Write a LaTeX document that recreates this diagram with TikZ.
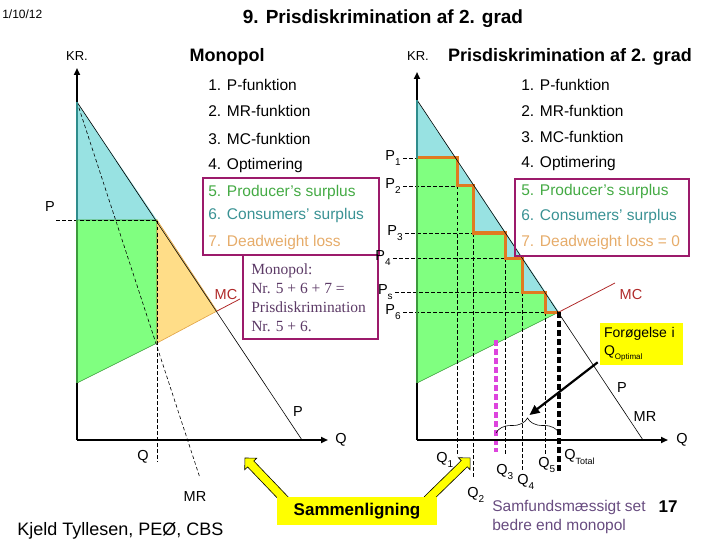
\documentclass[tikz,border=0pt]{standalone}
\usepackage{fontspec}
\setmainfont{Liberation Sans}
\newfontfamily\notefont{Liberation Serif}
\usetikzlibrary{arrows.meta, positioning, calc, shapes.arrows, decorations.pathreplacing}
\definecolor{ccyan}{HTML}{98E2E2}
\definecolor{ccyanline}{HTML}{2F8C8C}
\definecolor{cgreen}{HTML}{80FF80}
\definecolor{cgreenline}{HTML}{3C9A3C}
\definecolor{cyellow}{HTML}{FFDD88}
\definecolor{cyellowline}{HTML}{E0A040}
\definecolor{corange}{HTML}{E07A20}
\definecolor{cpurple}{HTML}{9C1A6B}
\definecolor{cmagenta}{HTML}{DD44DD}
\definecolor{cred}{HTML}{B02A2A}
\definecolor{tgreen}{HTML}{44AA44}
\definecolor{tteal}{HTML}{3A9294}
\definecolor{ttan}{HTML}{E6AC6A}
\definecolor{tplum}{HTML}{5C3A66}
\definecolor{tmauve}{HTML}{684C80}
\definecolor{hilite}{HTML}{FFFF00}
\newcommand\lowsub[1]{\raisebox{-0.55ex}{\fontsize{10}{10}\selectfont #1}}
\tikzset{
  every picture/.style={line width=0.6pt},
  axis/.style={-{Triangle[length=7pt, width=6pt]}, line width=2.4pt},
  curve/.style={line width=0.6pt},
  guide/.style={line width=0.6pt, dash pattern=on 3.5pt off 2.5pt},
  bigguide/.style={line width=3.5pt, dash pattern=on 6pt off 3pt, draw=#1},
  stair/.style={draw=corange, line width=3pt, line join=miter},
  item/.style={font=\fontsize{15.5}{18}\selectfont, anchor=west, inner sep=0pt},
  title/.style={font=\fontsize{18}{22}\selectfont\bfseries, inner sep=0pt},
  lbl/.style={font=\fontsize{14.5}{16}\selectfont, inner sep=0pt},
  framebox/.style={draw=cpurple, line width=2.6pt},
  sticker/.style={fill=hilite, inner sep=0pt},
  blockarrow/.style={single arrow, draw=black, fill=hilite, line width=0.6pt, inner sep=4pt,
    single arrow head extend=4pt, minimum height=#1, anchor=tail},
}

\begin{document}
\begin{tikzpicture}[x=1pt, y=-1pt]
  \useasboundingbox (0,0) rectangle (720,540);
  % heading
  \node[anchor=west, inner sep=0pt, font=\fontsize{12}{14}\selectfont] (date) at (2,14) {1/10/12};
  \node[title, font=\fontsize{19}{22}\selectfont\bfseries] (head) at (383,19) {9. Prisdiskrimination af 2. grad};

  % ---- left chart: monopol ----
  \coordinate (L0) at (77,440);
  \coordinate (Ltop) at (77,102);
  \coordinate (Lpq) at (157,220);
  \coordinate (Lmr) at (157,343);
  \coordinate (Lpmc) at (217,311);
  \coordinate (Lmc0) at (77,383);
  \fill[ccyan] (Ltop) -- (Lpq) -- (77,220) -- cycle;
  \filldraw[fill=cgreen, draw=cgreenline] (77,220) -- (Lpq) -- (Lmr) -- (Lmc0) -- cycle;
  \filldraw[fill=cyellow, draw=cyellowline] (Lpq) -- (Lpmc) -- (Lmr) -- cycle;
  \draw[curve] (Ltop) -- (302,440);
  \draw[guide] (Ltop) -- (200,478);
  \draw[cred, line width=0.8pt] (Lpmc) -- (240,299);
  \draw[guide] (56,220) -- (Lpq) -- (157,462);
  \draw[axis] (L0) -- (77,68);
  \draw[line width=2.4pt, ccyanline] (Ltop) -- (77,220);
  \draw[line width=2.4pt, cgreenline] (77,220) -- (Lmc0);
  \draw[axis] (L0) -- (328,440);
  \node[lbl, font=\fontsize{13}{15}\selectfont] (lkr) at (77,56) {KR.};
  \node[lbl] (lp) at (50,207) {P};
  \node[lbl] (lq) at (143,457) {Q};
  \node[lbl] (lmr) at (195,497) {MR};
  \node[lbl, text=cred] (lmc) at (226,295) {MC};
  \node[lbl] (lpd) at (298,412) {P};
  \node[lbl] (lqx) at (341,440) {Q};
  \node[title] (ltitle) at (227,57) {Monopol};
  \foreach \y/\t [count=\i] in {85/1. P-funktion, 111/2. MR-funktion, 139/3. MC-funktion, 165/4. Optimering}
    \node[item] (litem\i) at (208,\y) {\t};
  \foreach \y/\c/\t [count=\i from 5] in {192/tgreen/5. Producer's surplus, 215/tteal/6. Consumers' surplus, 242/ttan/7. Deadweight loss}
    \node[item, text=\c] (litem\i) at (208,\y) {\t};
  \draw[framebox] (203,178) rectangle (379,255);
  \draw[framebox] (243,255) rectangle (378,339);
  \node[anchor=north west, align=left, inner sep=0pt, text=tplum,
    font=\notefont\fontsize{15.5}{19.2}\selectfont] (lnote) at (251,263)
    {Monopol:\\Nr. 5 + 6 + 7 =\\Prisdiskrimination\\Nr. 5 + 6.};

  % ---- right chart: 2nd degree price discrimination ----
  \coordinate (R0) at (417,440);
  \coordinate (Rtop) at (417,100);
  \coordinate (Rmc0) at (417,383);
  \coordinate (q0) at (417,440);
  \foreach \i/\q/\p in {1/457/158, 2/473/186, 3/505/233, 4/522/258, 5/545/292, 6/559/312}{
    \coordinate (q\i) at (\q,440);
    \coordinate (p\i) at (417,\p);
  }
  \fill[ccyan] (Rtop) -- (q6|-p6) -- (p6) -- cycle;
  \filldraw[fill=cgreen, draw=cgreenline] (p1) -| (q1|-p2) -| (q2|-p3) -| (q3|-p4) -| (q4|-p5) -| (q5|-p6)
    -- (q6|-p6) -- (Rmc0) -- cycle;
  % price levels
  \foreach \i/\x/\y/\t in {1/401/158/1, 2/401/186/2, 3/403/233/3, 4/391/258/4, 5/393/292/s, 6/401/312/6}{
    \pgfmathtruncatemacro\j{\i-1}
    \node[lbl, anchor=east] (pl\i) at (\x,\y) {P\lowsub{\t}};
    \draw[guide] ([xshift=2pt]pl\i.east) -- (q\j|-p\i);
  }
  % quantity levels
  \foreach \i/\k/\b in {1/2/456, 2/3/477, 3/4/455, 4/5/470, 5/6/455}
    \draw[guide] (q\i|-p\k) -- (q\i |- 0,\b);
  \draw[stair] (p1) -| (q1|-p2) -| (q2|-p3) -| (q3|-p4) -| (q4|-p5) -| (q5|-p6) -- (q6|-p6);
  \draw[curve] (Rtop) -- (643,440);
  \draw[cred, line width=0.8pt] (q6|-p6) -- (615,283);
  \draw[bigguide=cmagenta] (496,340) -- (496,452);
  \draw[bigguide=black] (q6|-p6) -- (q6 |- 0,473);
  \draw[axis] (R0) -- (417,72);
  \draw[line width=2.4pt, ccyanline] (Rtop) -- (p1);
  \draw[line width=2.4pt, cgreenline] (p1) -- (Rmc0);
  \draw[axis] (R0) -- (668,440);
  \foreach \i/\x/\y in {1/436/460, 2/467/495, 3/496/472, 4/517/482, 5/538/465}
    \node[lbl, anchor=west] (ql\i) at (\x,\y) {Q\lowsub{\i}};
  \node[lbl, anchor=west] (qlt) at (564,457) {Q\lowsub{\fontsize{9}{9}\selectfont Total}};
  \coordinate (bl) at (496,433);
  \coordinate (br) at (559,433);
  \draw[decorate, decoration={brace, amplitude=15pt}] (bl) -- (br);
  \coordinate (bracetip) at ($(bl)!0.5!(br)+(2,-18)$);
  \node[lbl, font=\fontsize{13}{15}\selectfont] (rkr) at (418,56) {KR.};
  \node[title] (rtitle) at (570,57) {Prisdiskrimination af 2. grad};
  \node[lbl, text=cred] (rmc) at (631,295) {MC};
  \node[lbl] (rpd) at (622,388) {P};
  \node[lbl] (rmr) at (645,417) {MR};
  \node[lbl] (rqx) at (682,440) {Q};
  \foreach \y/\t [count=\i] in {85/1. P-funktion, 111/2. MR-funktion, 137/3. MC-funktion, 163/4. Optimering}
    \node[item] (ritem\i) at (521,\y) {\t};
  \foreach \y/\c/\t [count=\i from 5] in {191/tgreen/5. Producer's surplus, 216/tteal/6. Consumers' surplus, 242/ttan/7. Deadweight loss = 0}
    \node[item, text=\c] (ritem\i) at (521,\y) {\t};
  \draw[framebox] (515,179) rectangle (689,256);
  \node[sticker, minimum width=83pt, minimum height=42pt, text width=75pt, align=left,
    font=\fontsize{14}{18}\selectfont] (incr) at (641.5,344)
    {Forøgelse i\\Q\lowsub{\fontsize{8}{8}\selectfont Optimal}};
  \draw[line width=2.2pt, -{Triangle[length=10pt, width=9pt]}] ([xshift=-2pt, yshift=3pt]incr.south west) -- (bracetip);

  % ---- comparison ----
  \node[blockarrow=62pt, rotate=133.7] (cmpl) at (288,503) {};
  \node[blockarrow=60pt, rotate=44.3] (cmpr) at (427,500) {};
  \node[sticker, minimum width=160pt, minimum height=28pt, font=\fontsize{17}{20}\selectfont\bfseries] (cmp) at (357,511) {Sammenligning};
  \node[anchor=west, inner sep=0pt, font=\fontsize{18}{20}\selectfont] (author) at (17,531) {Kjeld Tyllesen, PEØ, CBS};
  \node[anchor=west, align=left, inner sep=0pt, text=tmauve, font=\fontsize{15.5}{19}\selectfont] (verdict) at (492,517)
    {Samfundsmæssigt set\\bedre end monopol};
  \node[inner sep=0pt, font=\fontsize{17}{20}\selectfont\bfseries] (pageno) at (668,507) {17};
\end{tikzpicture}
\end{document}
